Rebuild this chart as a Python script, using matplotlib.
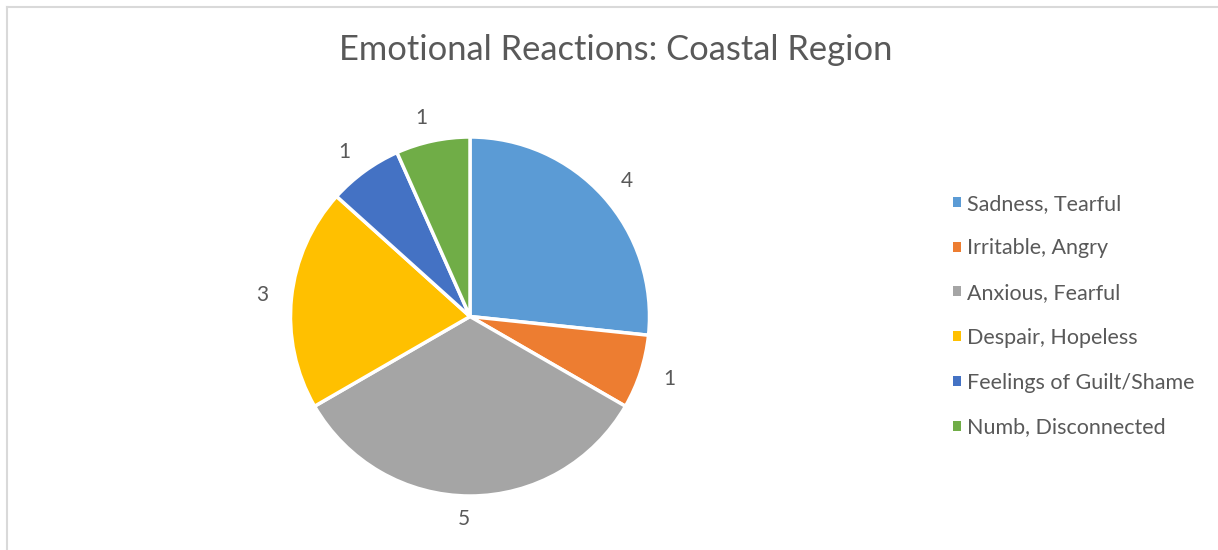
import matplotlib
matplotlib.use('Agg')
import matplotlib.pyplot as plt
from matplotlib.patches import Patch
from matplotlib.lines import Line2D

plt.rcParams['font.family'] = ['Lato', 'DejaVu Sans']

# data
labels = ['Sadness, Tearful', 'Irritable, Angry', 'Anxious, Fearful',
          'Despair, Hopeless', 'Feelings of Guilt/Shame', 'Numb, Disconnected']
counts = [4, 1, 5, 3, 1, 1]
colors = ['#5B9BD5', '#ED7D31', '#A5A5A5', '#FFC000', '#4472C4', '#70AD47']
title = 'Emotional Reactions: Coastal Region'

txt = '#595959'

W, H = 1218, 550
fig = plt.figure(figsize=(W / 100, H / 100), dpi=100)

# chart border (light gray, partly cut off by the crop)
fig.add_artist(Line2D([7 / W, 1.0], [1 - 7 / H, 1 - 7 / H], transform=fig.transFigure,
                      color='#d9d9d9', lw=1.5))
fig.add_artist(Line2D([7 / W, 7 / W], [0, 1 - 7 / H], transform=fig.transFigure,
                      color='#d9d9d9', lw=1.5))

# pie axes: centre (470, 316.5) px, radius 179.5 px
cx, cy, r = 470, 316.5, 179.5
ax = fig.add_axes([(cx - r) / W, (H - cy - r) / H, 2 * r / W, 2 * r / H])
wedges, texts = ax.pie(counts, labels=[str(c) for c in counts], colors=colors,
                       startangle=90, counterclock=False, labeldistance=1.13,
                       wedgeprops=dict(edgecolor='white', linewidth=2.5),
                       textprops=dict(fontsize=15, color=txt))
ax.set_xlim(-1, 1)
ax.set_ylim(-1, 1)
ax.set_aspect('auto')
ax.axis('off')

fig.text(615.5 / W, 1 - 50 / H, title, ha='center', va='center', fontsize=24.8, color=txt)

handles = [Patch(facecolor=c, edgecolor='none') for c in colors]
fig.legend(handles, labels, loc='center left', bbox_to_anchor=(953 / W, 1 - 315.5 / H),
           frameon=False, fontsize=15.5, labelcolor=txt, handlelength=0.35, handleheight=0.35,
           handletextpad=0.3, labelspacing=1.15, borderaxespad=0, borderpad=0)

fig.savefig('out.png', dpi=100, facecolor='white')
